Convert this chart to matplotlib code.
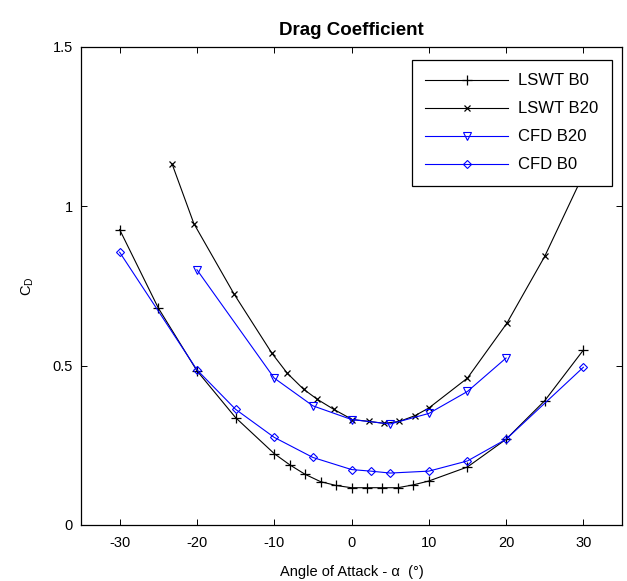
import matplotlib
matplotlib.use("Agg")
import matplotlib.pyplot as plt
from matplotlib.ticker import FuncFormatter

# ---- data ----
lswt_b0_alpha = [-30, -25, -20, -15, -10, -8, -6, -4, -2, 0, 2, 4, 6, 8, 10, 15, 20, 25, 30]
lswt_b0_cd = [0.927, 0.681, 0.484, 0.337, 0.224, 0.189, 0.159, 0.136, 0.124, 0.117,
              0.117, 0.117, 0.117, 0.126, 0.138, 0.182, 0.269, 0.390, 0.549]

lswt_b20_alpha = [-23.2, -20.4, -15.2, -10.3, -8.3, -6.2, -4.4, -2.3, 0.1, 2.3, 4.2, 6.2,
                  8.2, 10, 15, 20.1, 25, 30]
lswt_b20_cd = [1.132, 0.946, 0.725, 0.539, 0.476, 0.426, 0.394, 0.363, 0.331, 0.325,
               0.319, 0.325, 0.343, 0.367, 0.461, 0.633, 0.843, 1.10]

cfd_b20_alpha = [-20, -10, -5, 0, 5, 10, 15, 20]
cfd_b20_cd = [0.801, 0.461, 0.374, 0.331, 0.317, 0.350, 0.419, 0.524]

cfd_b0_alpha = [-30, -20, -15, -10, -5, 0, 2.5, 5, 10, 15, 20, 30]
cfd_b0_cd = [0.856, 0.487, 0.363, 0.275, 0.212, 0.174, 0.169, 0.163, 0.169, 0.201, 0.269, 0.495]

series_labels = ["LSWT B0", "LSWT B20", "CFD B20", "CFD B0"]
x_ticks = [-30, -20, -10, 0, 10, 20, 30]
y_ticks = [0, 0.5, 1, 1.5]

plt.rcParams['font.family'] = ['Liberation Sans', 'DejaVu Sans']
plt.rcParams['axes.unicode_minus'] = False
plt.rcParams['mathtext.fontset'] = 'custom'
plt.rcParams['mathtext.rm'] = 'Liberation Sans'

fig = plt.figure(figsize=(6.27, 5.81), dpi=100)
ax = fig.add_axes([81/627, 56/581, 541/627, 478/581])

lw = 0.8
ax.plot(lswt_b0_alpha, lswt_b0_cd, color='black', lw=lw, marker='+', ms=7,
        mew=0.9, label=series_labels[0])
ax.plot(lswt_b20_alpha, lswt_b20_cd, color='black', lw=lw, marker='x', ms=3.8,
        mew=0.9, label=series_labels[1])
ax.plot(cfd_b20_alpha, cfd_b20_cd, color='blue', lw=lw, marker='v', ms=5.5,
        mfc='none', mec='blue', mew=0.8, label=series_labels[2])
ax.plot(cfd_b0_alpha, cfd_b0_cd, color='blue', lw=lw, marker='D', ms=4.3,
        mfc='none', mec='blue', mew=0.8, label=series_labels[3])

ax.set_xlim(-35, 35)
ax.set_ylim(0, 1.5)
ax.set_xticks(x_ticks)
ax.set_yticks(y_ticks)
ax.yaxis.set_major_formatter(FuncFormatter(lambda v, p: ('%g' % v)))
ax.tick_params(direction='in', top=True, right=True, length=4, width=0.7,
               labelsize=10.5, pad=8)
ax.tick_params(axis='y', pad=6)
for s in ax.spines.values():
    s.set_linewidth(0.9)

ax.set_title("Drag Coefficient", fontsize=13.5, fontweight='bold', pad=8.5)
ax.set_xlabel("Angle of Attack - α  (°)", fontsize=10.5, labelpad=11)
ax.set_ylabel(r"$\mathregular{C_D}$", fontsize=10.5, labelpad=12)

leg = ax.legend(loc='upper right', bbox_to_anchor=(0.9815, 0.9728), borderaxespad=0,
                fontsize=12, handlelength=5.0, handletextpad=0.6, labelspacing=0.78,
                borderpad=0.8, numpoints=1, fancybox=False, framealpha=1,
                edgecolor='black')
leg.get_frame().set_linewidth(0.9)

fig.savefig("out.png", dpi=100)
